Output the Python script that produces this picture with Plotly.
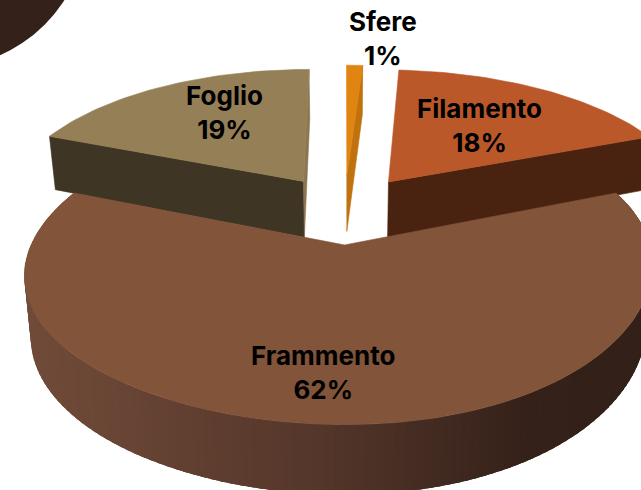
import math
import plotly.graph_objects as go

# Data
categories = ["Sfere", "Filamento", "Frammento", "Foglio"]
shares = [1, 18, 62, 19]
percent_labels = ["1%", "18%", "62%", "19%"]

# Styles
top_colors = {"Sfere": "#e0850f", "Filamento": "#ba5829", "Frammento": "#825439", "Foglio": "#957f56"}
wall_colors = {"Sfere": "#bf720e", "Filamento": "#4a2310", "Foglio": "#3f3524"}
end_wall_color = "#8b7650"
label_pos = {"Sfere": (383, 38), "Filamento": (479, 125), "Frammento": (323, 372), "Foglio": (224, 112)}

# Projection of the tilted pie onto the page
X0, Y0, AX_LEFT, AX_RIGHT, AX_FRONT, BY, PERSP, EXPLODE = 344.5, 209.0, 301.0, 309.0, 297.0, 138.0, 0.16, 0.25
SHRINK = 0.02
SHEAR, SHEAR_Y = 0.09, 200.0


def top_point(X, Y, front=False):
    d = 1 - PERSP * Y
    ax = AX_FRONT if front else (AX_RIGHT if X > 0 else AX_LEFT)
    x, y = X0 + ax * X / d, Y0 + BY * Y / d
    if front:
        x -= SHEAR * (y - SHEAR_Y) * X * X
    return x, y


def bottom_point(X, Y, front=False):
    x, y = top_point(X, Y, front)
    f = Y / (1 - PERSP * Y)
    return x + (X0 - x) * SHRINK, y + 57.5 + 8.0 * f


def disk(center, deg):
    a = math.radians(deg)
    return center[0] + math.sin(a), center[1] - math.cos(a)


def lerp_color(x):
    stops = [(25, (113, 75, 57)), (320, (84, 54, 42)), (530, (52, 33, 25)), (700, (50, 32, 24))]
    for (x1, c1), (x2, c2) in zip(stops, stops[1:]):
        if x <= x2:
            t = max(0.0, (x - x1) / (x2 - x1))
            return "rgb(%d,%d,%d)" % tuple(round(a + (b - a) * t) for a, b in zip(c1, c2))
    return "rgb(50,32,24)"


def poly(points, color, width=0.6):
    xs = [p[0] for p in points] + [points[0][0]]
    ys = [p[1] for p in points] + [points[0][1]]
    return go.Scatter(x=xs, y=ys, mode="lines", fill="toself", fillcolor=color,
                      line=dict(color=color, width=width), hoverinfo="skip", showlegend=False)


# Slice angles, clockwise from twelve o'clock
spans = {}
start = 0.0
total = sum(shares)
for name, value in zip(categories, shares):
    sweep = 360.0 * value / total
    spans[name] = (start, start + sweep)
    start += sweep


def center_of(name):
    a, b = spans[name]
    mid = math.radians((a + b) / 2)
    return EXPLODE * math.sin(mid), -EXPLODE * math.cos(mid)


def radial_wall(name, deg, color):
    c = center_of(name)
    p = disk(c, deg)
    return poly([top_point(*c), top_point(*p), bottom_point(*p), bottom_point(*c)], color)


def top_face(name, front=False):
    c = center_of(name)
    a, b = spans[name]
    n = max(4, int((b - a) / 1.5))
    pts = [top_point(*c, front)]
    for i in range(n + 1):
        pts.append(top_point(*disk(c, a + (b - a) * i / n), front))
    return poly(pts, top_colors[name])


fig = go.Figure()

# Back slices first, the front slice last
fig.add_trace(radial_wall("Foglio", spans["Foglio"][0], wall_colors["Foglio"]))
fig.add_trace(radial_wall("Foglio", spans["Foglio"][1], end_wall_color))
fig.add_trace(top_face("Foglio"))

fig.add_trace(radial_wall("Filamento", spans["Filamento"][1], wall_colors["Filamento"]))
fig.add_trace(top_face("Filamento"))

fig.add_trace(radial_wall("Sfere", spans["Sfere"][1], wall_colors["Sfere"]))
fig.add_trace(top_face("Sfere"))

# Outer wall of the front slice: strips painted in order, each covering the previous seam
c = center_of("Frammento")
a, b = spans["Frammento"]
steps = 140
for i in range(steps):
    d1 = a + (b - a) * i / steps
    d2 = min(b, a + (b - a) * (i + 2.5) / steps)
    dm = (d1 + d2) / 2
    p1, pm, p2 = disk(c, d1), disk(c, dm), disk(c, d2)
    tm = top_point(*disk(c, a + (b - a) * (i + 0.5) / steps), True)
    fig.add_trace(poly([top_point(*p1, True), top_point(*pm, True), top_point(*p2, True),
                        bottom_point(*p2, True), bottom_point(*pm, True), bottom_point(*p1, True)],
                       lerp_color(tm[0]), width=0))
fig.add_trace(top_face("Frammento", True))

for name, pct in zip(categories, percent_labels):
    x, y = label_pos[name]
    fig.add_annotation(x=x, y=y, text=f"<b>{name}<br>{pct}</b>", showarrow=False,
                       font=dict(family="Inter", size=26, color="#000000"), align="center")

fig.update_layout(
    width=641, height=490, margin=dict(l=0, r=0, t=0, b=0),
    paper_bgcolor="white", plot_bgcolor="white", showlegend=False,
    xaxis=dict(range=[0, 641], visible=False, fixedrange=True),
    yaxis=dict(range=[490, 0], visible=False, fixedrange=True),
    shapes=[dict(type="circle", xref="x", yref="y", x0=-208, x1=88, y0=-228, y1=68,
                 fillcolor="#33211a", line=dict(width=0), layer="below")],
)

fig.write_html("out.html", config={"displayModeBar": False},
               post_script="document.body.style.margin='0';document.body.style.overflow='hidden';")
